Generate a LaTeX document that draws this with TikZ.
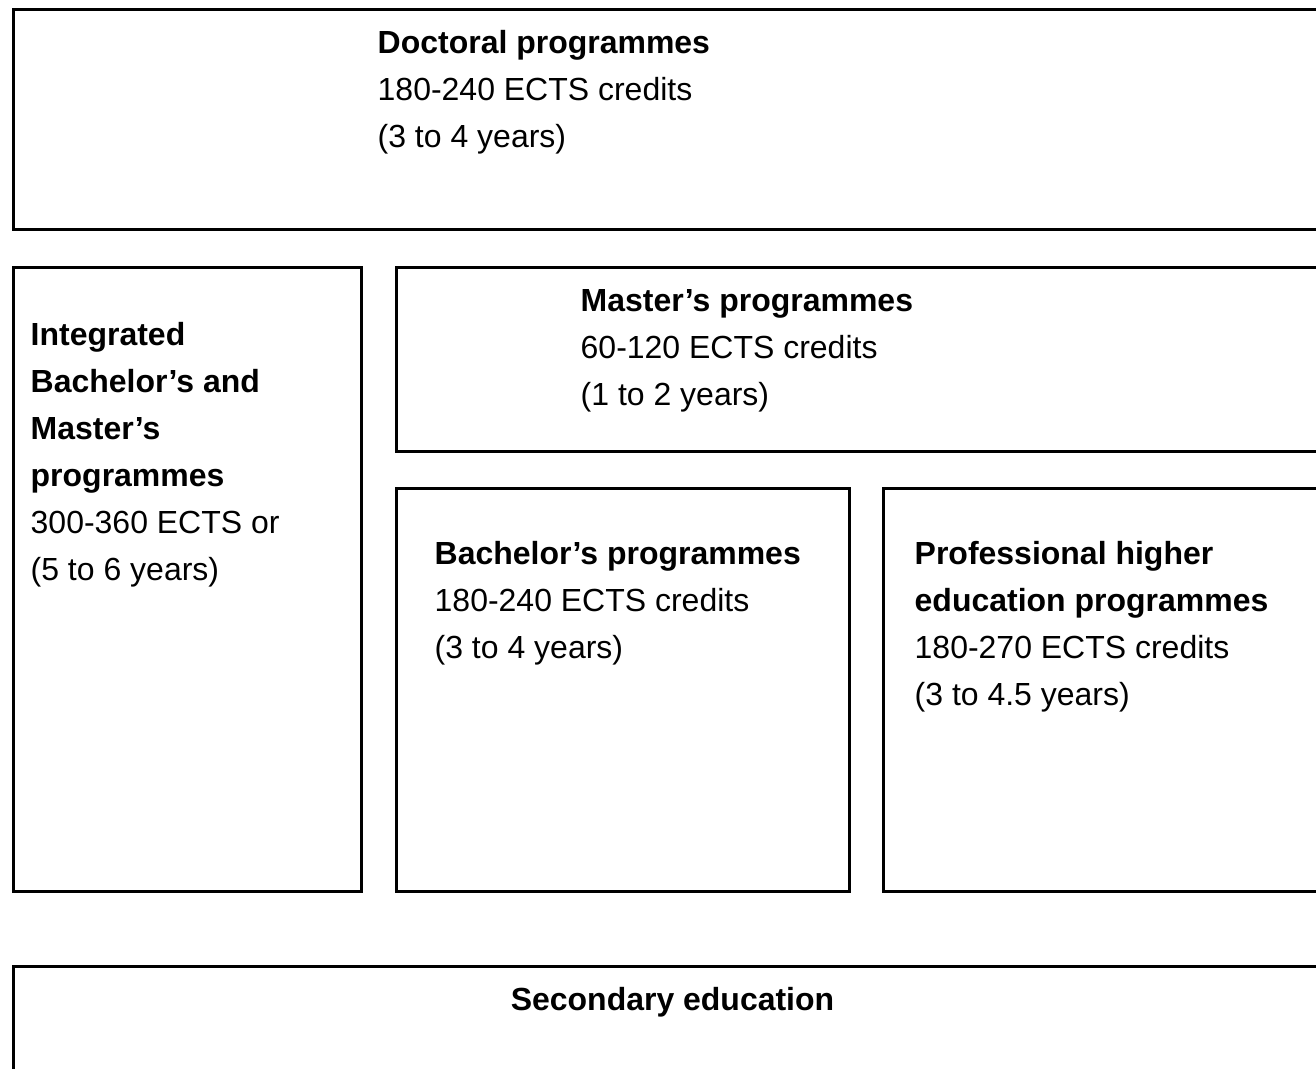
\documentclass[tikz,border=0pt]{standalone}
\usepackage{fontspec}
\setmainfont{Liberation Sans}
\usetikzlibrary{positioning}

\tikzset{
  box/.style={draw, line width=0.9pt, inner sep=0pt, anchor=north west},
  txt/.style={anchor=base west, align=left, inner sep=0pt,
    font=\fontsize{9.1pt}{13.4pt}\selectfont},
}

\begin{document}
\begin{tikzpicture}

  \useasboundingbox (0,0) rectangle (13.16,10.69);
  \clip (0,0) rectangle (13.16,10.69);

  % boxes
  \node[box, minimum width=13.5cm, minimum height=2.2cm]  (doc)   at (0.12,10.61) {};
  \node[box, minimum width=3.48cm, minimum height=6.24cm] (integ) at (0.12,8.03) {};
  \node[box, minimum width=9.6cm,  minimum height=1.84cm] (mast)  at (3.95,8.03) {};
  \node[box, minimum width=4.53cm, minimum height=4.03cm] (bach)  at (3.95,5.82) {};
  \node[box, minimum width=4.7cm,  minimum height=4.03cm] (prof)  at (8.82,5.82) {};
  \node[box, minimum width=13.5cm, minimum height=1.5cm]  (sec)   at (0.12,1.04) {};

  % labels (placed at the baseline of their last line)
  \node[txt] (doctxt) at (3.77,9.21)
    {\textbf{Doctoral programmes}\\180-240 ECTS credits\\(3 to 4 years)};
  \node[txt] (integtxt) at (0.30,4.88)
    {\textbf{Integrated}\\\textbf{Bachelor’s and}\\\textbf{Master’s}\\\textbf{programmes}\\300-360 ECTS or\\(5 to 6 years)};
  \node[txt] (masttxt) at (5.80,6.63)
    {\textbf{Master’s programmes}\\60-120 ECTS credits\\(1 to 2 years)};
  \node[txt] (bachtxt) at (4.34,4.10)
    {\textbf{Bachelor’s programmes}\\180-240 ECTS credits\\(3 to 4 years)};
  \node[txt] (proftxt) at (9.14,3.63)
    {\textbf{Professional higher}\\\textbf{education programmes}\\180-270 ECTS credits\\(3 to 4.5 years)};
  \node[txt, anchor=base] (sectxt) at (6.725,0.58)
    {\textbf{Secondary education}};

\end{tikzpicture}
\end{document}
